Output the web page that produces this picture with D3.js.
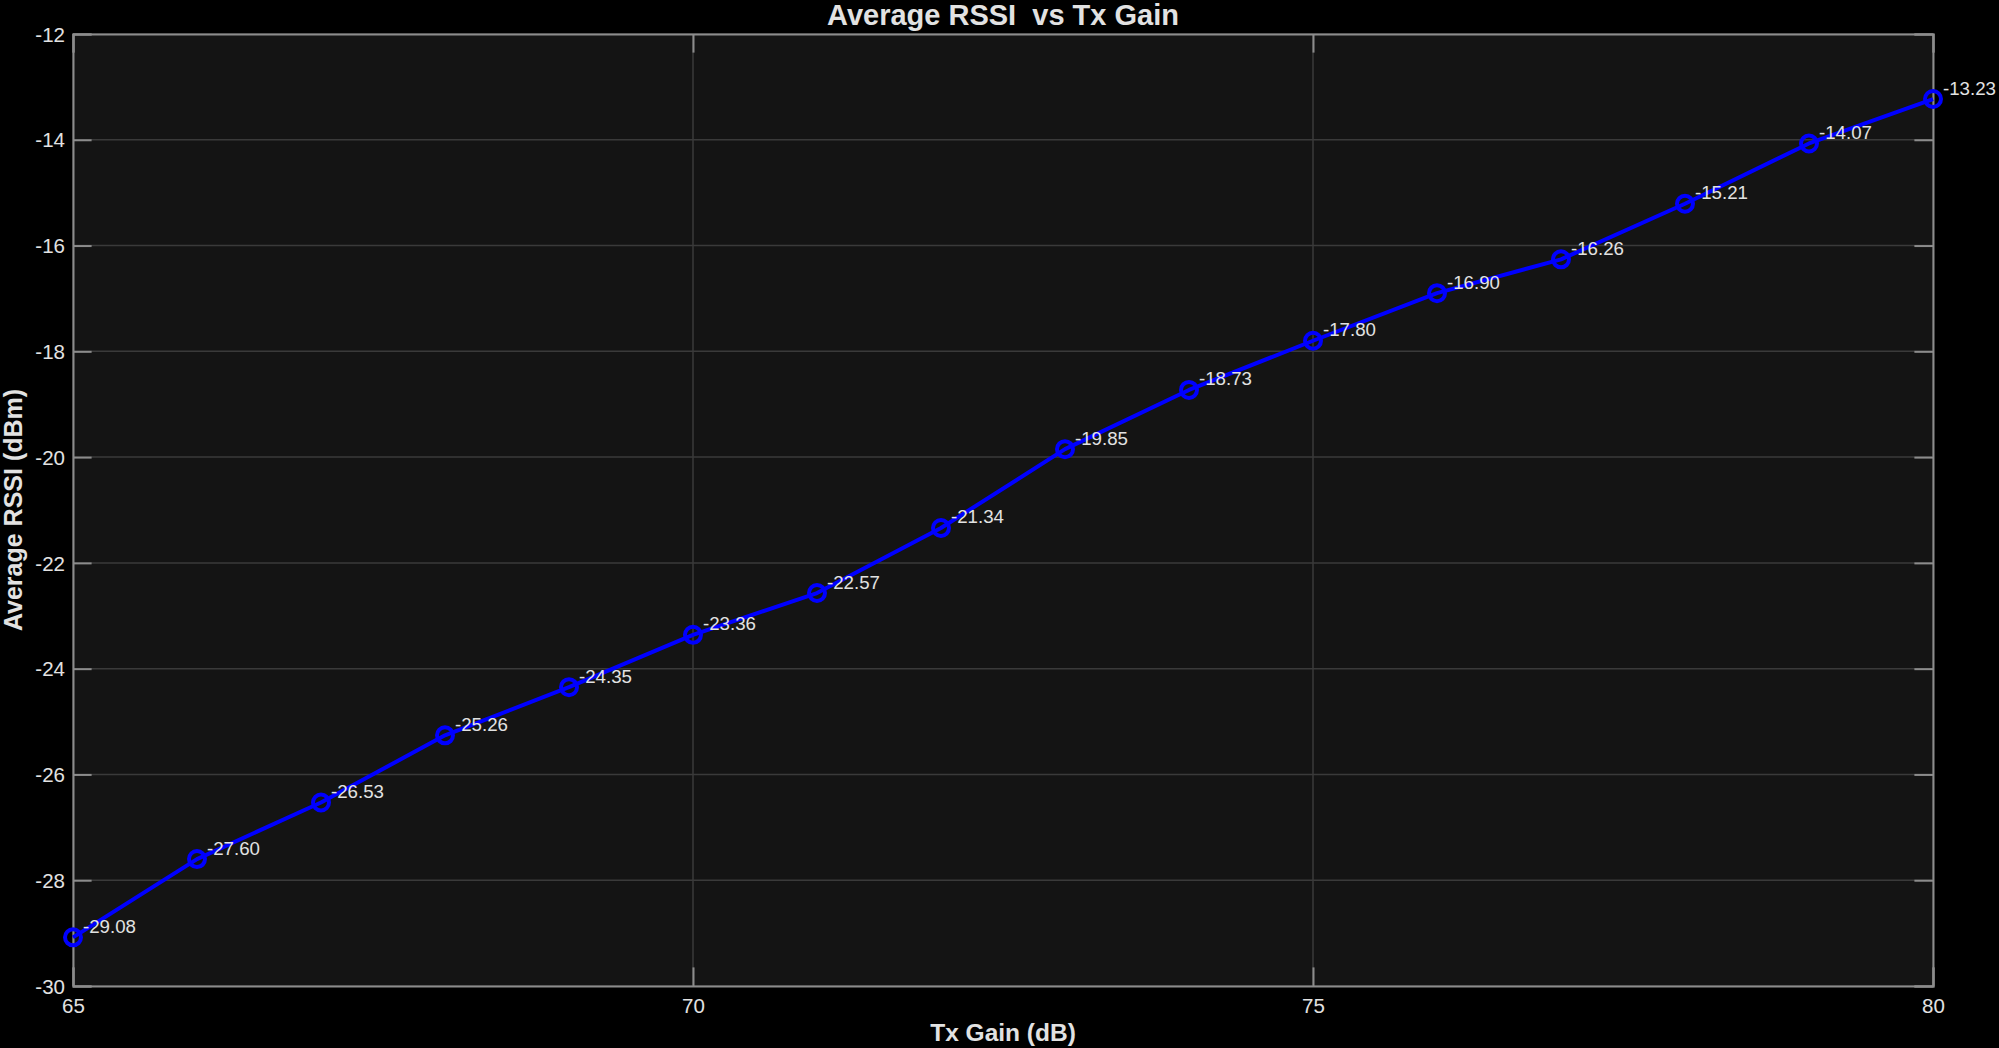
<!DOCTYPE html>
<html><head><meta charset="utf-8">
<script src="https://cdn.jsdelivr.net/npm/d3@7"></script>
<style>
html,body{margin:0;padding:0;background:#000;}
svg{display:block;font-family:Arial,"Liberation Sans",Helvetica,sans-serif;}
</style></head>
<body>
<script>
const txGain = [65,66,67,68,69,70,71,72,73,74,75,76,77,78,79,80];
const avgRssi = [-29.08,-27.60,-26.53,-25.26,-24.35,-23.36,-22.57,-21.34,-19.85,-18.73,-17.80,-16.90,-16.26,-15.21,-14.07,-13.23];
const xTicks = [65,70,75,80];
const yTicks = [-30,-28,-26,-24,-22,-20,-18,-16,-14,-12];
const titleText = "Average RSSI\u00a0 vs Tx Gain";
const xLabel = "Tx Gain (dB)";
const yLabel = "Average RSSI (dBm)";

const W = 1999, H = 1048;
const L = 73, R = 1933, T = 34, B = 986;
const tickLen = 18.6;
const textCol = "#e2e2e2";
const fontFam = "Arial, 'Liberation Sans', sans-serif";

const svg = d3.select("body").append("svg").attr("width", W).attr("height", H);
svg.append("rect").attr("width", W).attr("height", H).attr("fill", "#000");

const x = d3.scaleLinear().domain([65,80]).range([L,R]);
const y = d3.scaleLinear().domain([-30,-12]).range([B,T]);

svg.append("rect").attr("x", L).attr("y", T).attr("width", R-L).attr("height", B-T).attr("fill", "#141414");

// grid
const g = svg.append("g");
g.selectAll(".gx").data(xTicks).join("line")
  .attr("x1", d=>x(d)).attr("x2", d=>x(d)).attr("y1", T).attr("y2", B)
  .attr("stroke", "#3a3a3a").attr("stroke-width", 1.5);
g.selectAll(".gy").data(yTicks).join("line")
  .attr("y1", d=>y(d)).attr("y2", d=>y(d)).attr("x1", L).attr("x2", R)
  .attr("stroke", "#3a3a3a").attr("stroke-width", 1.5);

// axes with inward ticks
const tickCol = "#8c8c8c";
const axB = svg.append("g").attr("transform", `translate(0,${B})`)
  .call(d3.axisBottom(x).tickValues(xTicks).tickSize(-tickLen).tickPadding(12).tickFormat(d3.format("d")));
const axT = svg.append("g").attr("transform", `translate(0,${T})`)
  .call(d3.axisTop(x).tickValues(xTicks).tickSize(-tickLen).tickFormat(""));
const axL = svg.append("g").attr("transform", `translate(${L},0)`)
  .call(d3.axisLeft(y).tickValues(yTicks).tickSize(-tickLen).tickPadding(8).tickFormat(d3.format("d")));
const axR = svg.append("g").attr("transform", `translate(${R},0)`)
  .call(d3.axisRight(y).tickValues(yTicks).tickSize(-tickLen).tickFormat(""));
[axB,axT,axL,axR].forEach(a=>{
  a.attr("font-family", fontFam).attr("font-size", 20.5);
  a.select(".domain").attr("stroke", tickCol).attr("stroke-width", 2);
  a.selectAll(".tick line").attr("stroke", tickCol).attr("stroke-width", 2);
  a.selectAll(".tick text").attr("fill", textCol).attr("font-size", 20.5);
});
axL.selectAll(".tick text").attr("dy", "0.35em").text(d=>String(d));
axB.selectAll(".tick text").attr("dy", "0.71em");

// line
svg.append("path").datum(txGain.map((v,i)=>[v,avgRssi[i]]))
  .attr("d", d3.line().x(d=>x(d[0])).y(d=>y(d[1])))
  .attr("fill", "none").attr("stroke", "#0000ff").attr("stroke-width", 4).attr("stroke-linejoin","round");

svg.append("g").selectAll("circle").data(txGain).join("circle")
  .attr("cx", (d)=>x(d)).attr("cy", (d,i)=>y(avgRssi[i])).attr("r", 8)
  .attr("fill", "none").attr("stroke", "#0000ff").attr("stroke-width", 4);

svg.append("g").selectAll("text").data(txGain).join("text")
  .attr("x", d=>x(d)+10).attr("y", (d,i)=>y(avgRssi[i])-4.5)
  .attr("fill", textCol).attr("font-size", 18.7)
  .text((d,i)=>avgRssi[i].toFixed(2));

// titles
svg.append("text").attr("x", (L+R)/2).attr("y", 24.5).attr("text-anchor","middle")
  .attr("fill", textCol).attr("font-size", 29).attr("font-weight","bold").text(titleText);
svg.append("text").attr("x", (L+R)/2).attr("y", 1041).attr("text-anchor","middle")
  .attr("fill", textCol).attr("font-size", 24.5).attr("font-weight","bold").text(xLabel);
svg.append("text").attr("transform", `translate(22,${(T+B)/2}) rotate(-90)`).attr("text-anchor","middle")
  .attr("fill", textCol).attr("font-size", 25).attr("font-weight","bold").text(yLabel);
</script>
</body></html>
